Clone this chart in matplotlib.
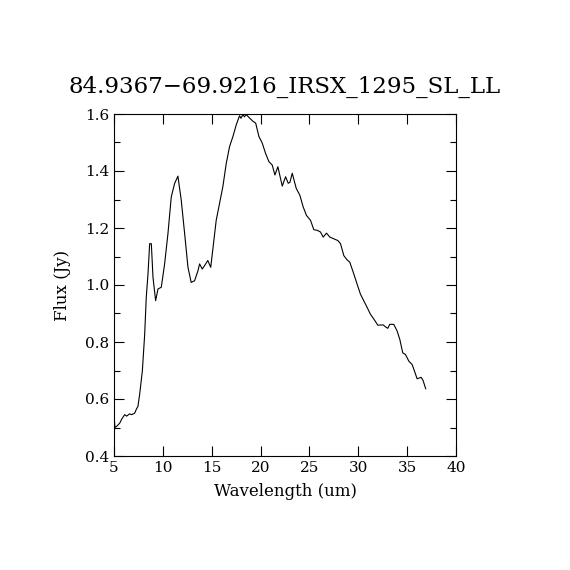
import matplotlib
matplotlib.use('Agg')
import matplotlib.pyplot as plt
from matplotlib.ticker import MultipleLocator

# spectrum
wavelength = [5.0, 5.05, 5.1, 5.24, 5.58, 5.8, 6.09, 6.3, 6.6, 6.8, 7.11, 7.3, 7.45, 7.62, 7.9,
              8.14, 8.3, 8.48, 8.65, 8.82, 8.99, 9.26, 9.5, 9.84, 10.18, 10.52, 10.86,
              11.2, 11.54, 11.88, 12.23, 12.57, 12.9, 13.25, 13.59, 13.76, 14.03, 14.27,
              14.6, 14.9, 15.1, 15.46, 15.8, 16.14, 16.49, 16.83, 17.17, 17.51, 17.85,
              18.0, 18.19, 18.35, 18.53, 18.87, 19.2, 19.5, 19.83, 20.17, 20.51, 20.85,
              21.19, 21.47, 21.77, 22.22, 22.56, 22.83, 23.0, 23.24, 23.65, 24.02, 24.36,
              24.7, 25.11, 25.45, 25.79, 26.13, 26.41, 26.75, 27.09, 27.5, 27.91, 28.18,
              28.52, 28.86, 29.13, 29.54, 29.88, 30.22, 30.57, 30.91, 31.25, 31.6, 32.0,
              32.55, 32.79, 33.02, 33.22, 33.63, 33.97, 34.25, 34.55, 34.83, 35.17,
              35.51, 35.75, 36.02, 36.43, 36.63, 36.9]
flux = [0.49, 0.52, 0.50, 0.503, 0.515, 0.53, 0.545, 0.54, 0.548, 0.545, 0.55, 0.565, 0.574, 0.615, 0.698,
        0.827, 0.956, 1.039, 1.145, 1.145, 1.027, 0.945, 0.986, 0.992, 1.074, 1.18, 1.309,
        1.356, 1.382, 1.298, 1.18, 1.062, 1.009, 1.015, 1.05, 1.074, 1.056, 1.068,
        1.086, 1.062, 1.121, 1.227, 1.286, 1.345, 1.427, 1.486, 1.521, 1.562, 1.594,
        1.585, 1.598, 1.59, 1.598, 1.586, 1.575, 1.568, 1.521, 1.498, 1.462, 1.433,
        1.421, 1.386, 1.415, 1.347, 1.38, 1.357, 1.36, 1.392, 1.339, 1.315, 1.274,
        1.244, 1.227, 1.194, 1.192, 1.186, 1.168, 1.182, 1.168, 1.162, 1.156, 1.145,
        1.103, 1.088, 1.08, 1.039, 1.003, 0.968, 0.944, 0.921, 0.897, 0.88, 0.859,
        0.86, 0.853, 0.848, 0.862, 0.862, 0.839, 0.809, 0.762, 0.756, 0.733,
        0.721, 0.698, 0.671, 0.676, 0.665, 0.636]

title = '84.9367\u221269.9216_IRSX_1295_SL_LL'

plt.rcParams['font.family'] = ['DejaVu Serif']

fig = plt.figure(figsize=(5.7, 5.7), dpi=100)
ax = fig.add_axes([0.2, 0.2, 0.6, 0.6])
ax.plot(wavelength, flux, color='black', linewidth=0.8)

ax.set_xlim(5, 40)
ax.set_ylim(0.4, 1.6)
ax.xaxis.set_major_locator(MultipleLocator(5))
ax.yaxis.set_major_locator(MultipleLocator(0.2))
ax.yaxis.set_minor_locator(MultipleLocator(0.1))
ax.tick_params(which='both', direction='in', top=True, right=True, labelsize=11, width=0.8)
ax.tick_params(which='major', length=7)
ax.tick_params(which='minor', length=4)
for s in ax.spines.values():
    s.set_linewidth(0.8)

ax.set_xlabel('Wavelength (um)', fontsize=12, labelpad=6)
ax.set_ylabel('Flux (Jy)', fontsize=12, labelpad=10)
ax.set_title(title, fontsize=16.5, pad=15)

fig.savefig('out.png', dpi=100)
